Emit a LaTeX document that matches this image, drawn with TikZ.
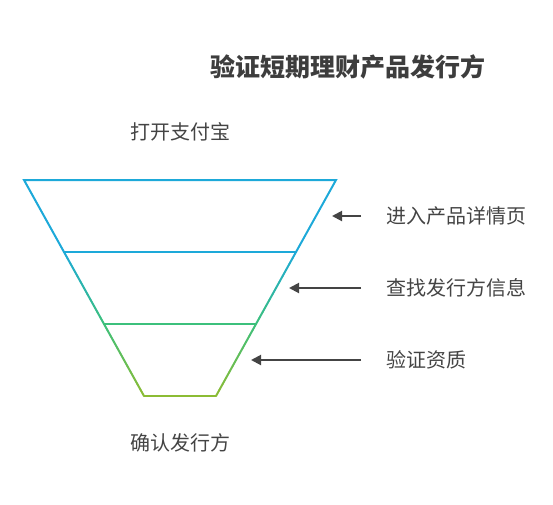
\documentclass[tikz,border=0pt]{standalone}
\usepackage{fontspec}
\setmainfont{Noto Sans CJK SC}
\usetikzlibrary{arrows.meta,calc}
\definecolor{fblue}{HTML}{1DA9D9}
\definecolor{fgreen}{HTML}{3CC07C}
\definecolor{flime}{HTML}{8CBC34}
\definecolor{txtgray}{HTML}{444444}

\begin{document}
\begin{tikzpicture}[x=1pt,y=-1pt,
    lbl/.style={text=txtgray,font=\fontsize{20}{24}\selectfont,inner sep=0pt},
    ttl/.style={text=txtgray!90!black,font=\fontsize{25}{30}\selectfont\bfseries,inner sep=0pt},
    band/.style={line width=2pt,line cap=round},
    arr/.style={draw=txtgray,line width=2pt,shorten <=25pt,-{Triangle[length=10pt,width=10pt]}}]
    \useasboundingbox (0,0) rectangle (553,504);

    \node[ttl] (title) at (348,67) {验证短期理财产品发行方};
    \node[lbl] (start) at (180,132) {打开支付宝};
    \node[lbl] (finish) at (180,443) {确认发行方};

    % funnel corners
    \coordinate (a1) at (24,180);  \coordinate (b1) at (336,180);
    \coordinate (a2) at (64,252);  \coordinate (b2) at (296,252);
    \coordinate (a3) at (104,324); \coordinate (b3) at (256,324);
    \coordinate (a4) at (144,396); \coordinate (b4) at (216,396);

    \draw[band,draw=fblue] (a2) -- (a1) -- (b1) -- (b2);
    \draw[band,draw=fblue] (a2) -- (b2);
    \draw[band,draw=fgreen] (a3) -- (b3);
    \draw[band,draw=flime] (a4) -- (b4);
    % sides with colour fade
    \foreach \p/\q/\c/\d in {a2/a3/fblue/fgreen, b2/b3/fblue/fgreen, a3/a4/fgreen/flime, b3/b4/fgreen/flime}
      \foreach \i in {0,...,11}{
        \pgfmathsetmacro\s{\i/12}
        \pgfmathsetmacro\e{(\i+1)/12}
        \pgfmathsetmacro\m{100-(\i+0.5)*100/12}
        \draw[band,draw=\c!\m!\d] ($(\p)!\s!(\q)$) -- ($(\p)!\e!(\q)$);
      }

    % steps on the right
    \node[lbl,anchor=west] (s1) at (386,216) {进入产品详情页};
    \node[lbl,anchor=west] (s2) at (386,288) {查找发行方信息};
    \node[lbl,anchor=west] (s3) at (386,360) {验证资质};
    \coordinate (t1) at (332,216);
    \coordinate (t2) at (289,288);
    \coordinate (t3) at (251,360);

    \draw[arr] (s1.west) -- (t1);
    \draw[arr] (s2.west) -- (t2);
    \draw[arr] (s3.west) -- (t3);
\end{tikzpicture}
\end{document}
